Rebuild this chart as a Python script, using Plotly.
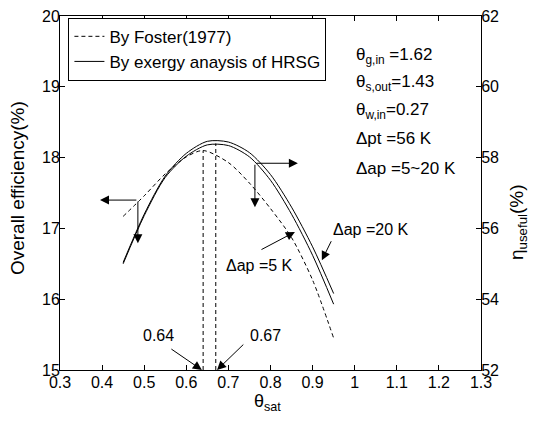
import plotly.graph_objects as go

# ---- data ----
theta_sat = [0.45, 0.50, 0.55, 0.60, 0.65, 0.70, 0.75, 0.80, 0.85, 0.90, 0.95]
eff_ap20 = [16.52, 17.20, 17.74, 18.06, 18.23, 18.22, 18.07, 17.76, 17.30, 16.74, 16.08]
eff_ap5 = [16.50, 17.18, 17.72, 18.02, 18.18, 18.17, 18.01, 17.68, 17.20, 16.62, 15.93]

theta_foster = [0.45, 0.50, 0.55, 0.60, 0.64, 0.70, 0.75, 0.80, 0.85, 0.90, 0.95]
eff_foster = [17.17, 17.46, 17.77, 18.01, 18.10, 17.93, 17.64, 17.28, 16.87, 16.27, 15.45]

opt_theta = [0.64, 0.67]
opt_eff = [18.10, 18.20]
opt_labels = ["0.64", "0.67"]

x_ticks = [0.3, 0.4, 0.5, 0.6, 0.7, 0.8, 0.9, 1.0, 1.1, 1.2, 1.3]
x_ticklabels = ["0.3", "0.4", "0.5", "0.6", "0.7", "0.8", "0.9", "1", "1.1", "1.2", "1.3"]
y_left_ticks = [15, 16, 17, 18, 19, 20]
y_right_ticks = [52, 54, 56, 58, 60, 62]

param_lines = [
    "θ<sub>g,in</sub> =1.62",
    "θ<sub>s,out</sub>=1.43",
    "θ<sub>w,in</sub>=0.27",
    "Δpt =56 K",
    "Δap =5~20 K",
]

FONT = "Arial, 'Liberation Sans', sans-serif"
BLACK = "black"

fig = go.Figure()

fig.add_trace(go.Scatter(
    x=theta_foster, y=eff_foster, mode="lines", name="By Foster(1977)",
    line=dict(color=BLACK, width=1, dash="4px,3px", shape="spline", smoothing=0.8),
))
fig.add_trace(go.Scatter(
    x=theta_sat, y=eff_ap20, mode="lines", name="By exergy anaysis of HRSG",
    legendgroup="ex", line=dict(color=BLACK, width=1, shape="spline", smoothing=0.8),
))
fig.add_trace(go.Scatter(
    x=theta_sat, y=eff_ap5, mode="lines", name="By exergy anaysis of HRSG",
    legendgroup="ex", showlegend=False,
    line=dict(color=BLACK, width=1, shape="spline", smoothing=0.8),
))
for xv, yv in zip(opt_theta, opt_eff):
    fig.add_trace(go.Scatter(
        x=[xv, xv], y=[15, yv], mode="lines", showlegend=False,
        line=dict(color=BLACK, width=1, dash="4px,3px"),
    ))
# invisible trace to carry the right axis
fig.add_trace(go.Scatter(x=[0.3], y=[52], yaxis="y2", mode="markers",
                         marker=dict(opacity=0), showlegend=False, hoverinfo="skip"))

annotations = []

def arrow(x, y, ax, ay):
    annotations.append(dict(
        x=x, y=y, ax=ax, ay=ay, xref="x", yref="y", axref="x", ayref="y",
        text="", showarrow=True, arrowhead=2, arrowsize=1.8, arrowwidth=1,
        arrowcolor=BLACK,
    ))

def label(x, y, text, xanchor="center", size=16):
    annotations.append(dict(
        x=x, y=y, xref="x", yref="y", text=text, showarrow=False,
        xanchor=xanchor, yanchor="middle", font=dict(family=FONT, size=size, color=BLACK),
    ))

def paper_text(x, y, text, size, angle=0):
    annotations.append(dict(
        x=x, y=y, xref="paper", yref="paper", text=text, showarrow=False,
        xanchor="center", yanchor="middle", textangle=angle,
        font=dict(family=FONT, size=size, color=BLACK),
    ))

# corner arrows indicating the axis for each curve
arrow(0.395, 17.40, 0.485, 17.40)
arrow(0.485, 16.79, 0.485, 17.40)
arrow(0.865, 17.92, 0.763, 17.92)
arrow(0.763, 17.30, 0.763, 17.92)

# optimum markers
label(0.533, 15.49, opt_labels[0])
arrow(0.637, 15.0, 0.561, 15.31)
label(0.787, 15.49, opt_labels[1])
arrow(0.673, 15.0, 0.739, 15.38)

# curve labels
label(0.775, 16.47, "Δap =5 K")
arrow(0.858, 16.95, 0.775, 16.69)
label(1.039, 16.98, "Δap =20 K")
arrow(0.922, 16.55, 0.946, 16.84)

# parameters block
param_y = [19.44, 19.06, 18.66, 18.27, 17.85]
for t, yv in zip(param_lines, param_y):
    label(0.998, yv, t, xanchor="left", size=17)

# axis titles
paper_text(-0.102, 0.514, "Overall efficiency(%)", 19, -90)
paper_text(1.088, 0.418, "η<sub>useful</sub>(%)", 19, -90)
paper_text(0.494, -0.092, "θ<sub>sat</sub>", 18)

axis_common = dict(
    showgrid=False, zeroline=False, showline=True, linecolor=BLACK, linewidth=1,
    ticks="inside", ticklen=5, tickcolor=BLACK, automargin=False,
    ticklabeloverflow="allow",
    tickfont=dict(family=FONT, size=16, color=BLACK),
)

# the page body adds an 8px offset, so margins are shifted to keep the plot box in place
fig.update_layout(
    width=537, height=422,
    margin=dict(l=52, r=64, t=8, b=60, autoexpand=False),
    paper_bgcolor="white", plot_bgcolor="white",
    font=dict(family=FONT, size=16, color=BLACK),
    showlegend=True,
    legend=dict(
        x=0.02, y=0.995, xanchor="left", yanchor="top",
        bordercolor=BLACK, borderwidth=1, bgcolor="white",
        font=dict(family=FONT, size=17, color=BLACK),
        tracegroupgap=0, itemwidth=30,
    ),
    xaxis=dict(range=[0.3, 1.3], tickvals=x_ticks, ticktext=x_ticklabels,
               mirror="ticks", ticklabelstandoff=-2, **axis_common),
    yaxis=dict(range=[15, 20], tickvals=y_left_ticks, ticklabelstandoff=-4, **axis_common),
    yaxis2=dict(range=[52, 62], tickvals=y_right_ticks, overlaying="y", side="right",
                ticklabelstandoff=-4, **axis_common),
    annotations=annotations,
)

fig.write_html("out.html")
